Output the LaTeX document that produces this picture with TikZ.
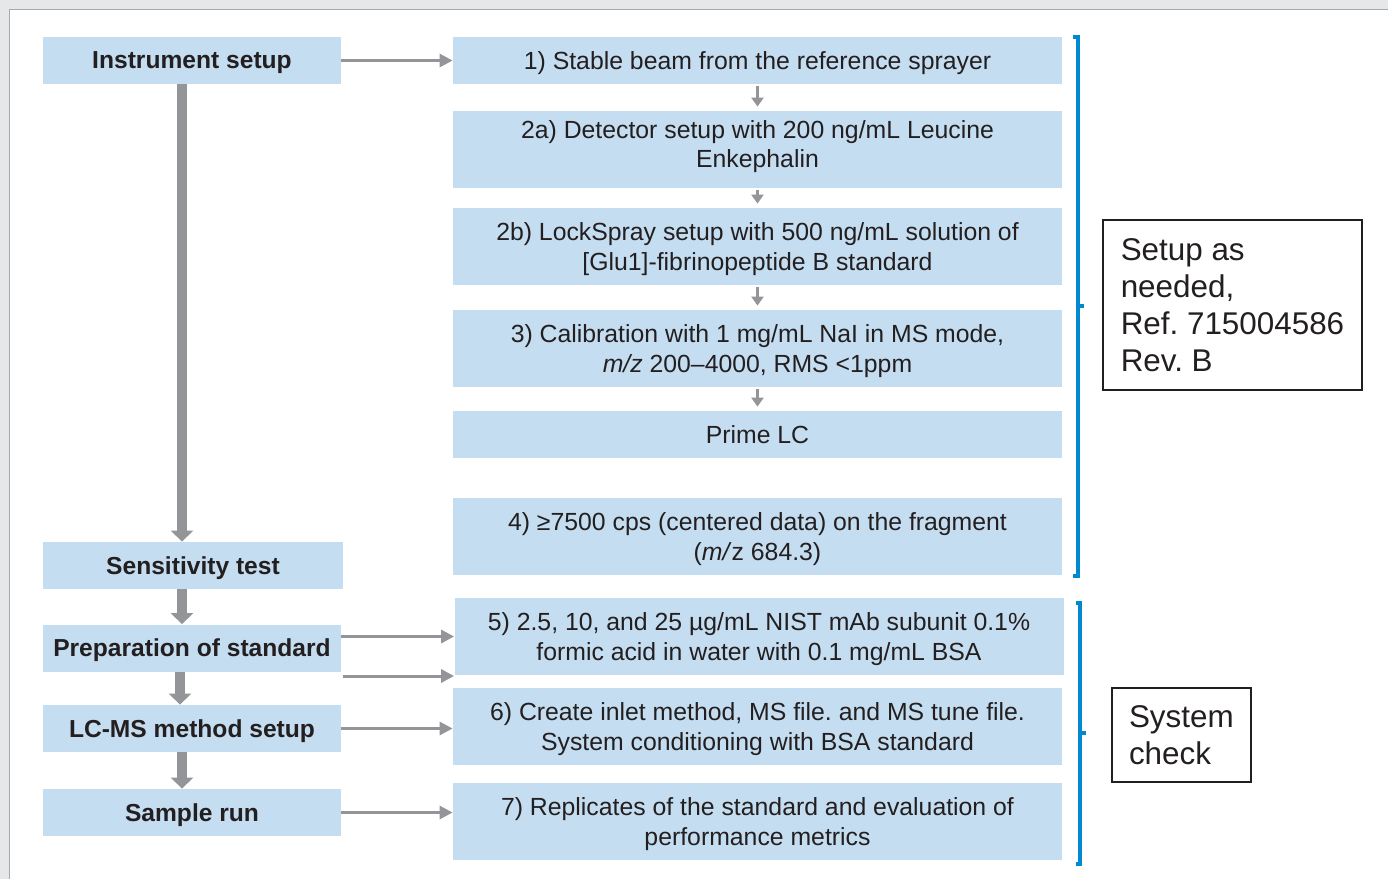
\documentclass[tikz,border=0pt]{standalone}
\usepackage{fontspec}
\setmainfont{Liberation Sans}
\usetikzlibrary{arrows.meta}

\definecolor{boxblue}{HTML}{C5DDF0}
\definecolor{arrowgrey}{HTML}{939598}
\definecolor{bracketblue}{HTML}{0089CF}
\definecolor{inkblack}{HTML}{231F20}
\definecolor{pagegrey}{HTML}{E6E7E8}
\definecolor{rulegrey}{HTML}{A7A9AC}

\begin{document}
\begin{tikzpicture}[x=0.5pt,y=-0.5pt,
	leftbox/.style={fill=boxblue, minimum width=149pt, minimum height=23.5pt, inner sep=0pt, text depth=0pt, text=inkblack, font=\bfseries\fontsize{12.3}{14}\selectfont},
	stepbox/.style={fill=boxblue, minimum width=304.5pt, minimum height=38.5pt, inner sep=0pt, text depth=0pt, align=center, text=inkblack, font=\fontsize{12.4}{14.6}\selectfont},
	notebox/.style={draw=inkblack, line width=1.25pt, inner ysep=0pt, align=left, text=inkblack, font=\fontsize{15.7}{18.6}\selectfont},
	bigarrow/.style={draw=arrowgrey, line width=5pt, -{Triangle[width=11pt,length=5.5pt]}},
	thinarrow/.style={draw=arrowgrey, line width=1.5pt, -{Triangle[width=6.5pt,length=6.5pt]}},
	smallarrow/.style={draw=arrowgrey, line width=1.2pt, -{Triangle[width=6pt,length=4.5pt]}, shorten <=1pt, shorten >=2pt},
	bracketline/.style={draw=bracketblue, line width=2pt}]
				\useasboundingbox (0,0) rectangle (1388,879);
				\fill[pagegrey] (0,0) rectangle (1388,879);
				\fill[white] (10,10) rectangle (1388,879);
				\draw[rulegrey, line width=0.75pt] (9.5,879) -- (9.5,9.5) -- (1388,9.5);
				
				\node[leftbox] (instr) at (192,60.5) {Instrument setup};
				\node[leftbox, minimum width=150pt] (sens) at (193,565.5) {Sensitivity test};
				\node[leftbox] (prep) at (192,648) {Preparation of standard};
				\node[leftbox] (lcms) at (192,728.5) {LC-MS method setup};
				\node[leftbox] (sample) at (192,812.5) {Sample run};
				
				\node[stepbox, minimum height=23.5pt] (s1) at (757.5,60.5) {1) Stable beam from the reference sprayer};
				\node[stepbox, text depth=5.6pt] (s2a) at (757.5,149.5) {2a) Detector setup with 200 ng/mL Leucine\\Enkephalin};
				\node[stepbox] (s2b) at (757.5,246.5) {2b) LockSpray setup with 500 ng/mL solution of\\{[}Glu1{]}-fibrinopeptide B standard};
				\node[stepbox] (s3) at (757.5,348.5) {3) Calibration with 1 mg/mL NaI in MS mode,\\\textit{m/z} 200--4000, RMS <1ppm};
				\node[stepbox, minimum height=23.5pt] (prime) at (757.5,434.5) {Prime LC};
				\node[stepbox] (s4) at (757.5,536.5) {4) ≥7500 cps (centered data) on the fragment\\(\textit{m/}z 684.3)};
				\node[stepbox] (s5) at (759,636.5) {5) 2.5, 10, and 25 µg/mL NIST mAb subunit 0.1\%\\formic acid in water with 0.1 mg/mL BSA};
				\node[stepbox] (s6) at (757.5,726.5) {6) Create inlet method, MS file.\ and MS tune file.\\System conditioning with BSA standard};
				\node[stepbox] (s7) at (757.5,821.5) {7) Replicates of the standard and evaluation of\\performance metrics};
				
				\node[notebox, inner xsep=0pt, minimum width=129.5pt, minimum height=85pt] (setupnote) at (1232.5,305) {Setup as\\needed,\\Ref.\ 715004586\\Rev.\ B};
				\node[notebox, inner xsep=8.5pt, text width=52.5pt, minimum height=47pt] (checknote) at (1181.5,735) {System\\check};
				
				\draw[bigarrow] ([xshift=-5pt]instr.south) -- ([xshift=-5.5pt]sens.north);
				\draw[bigarrow] ([xshift=-5.5pt]sens.south) -- ([xshift=-5pt]prep.north);
				\draw[bigarrow] ([xshift=-6pt]prep.south) -- ([xshift=-6pt]lcms.north);
				\draw[bigarrow] ([xshift=-5pt]lcms.south) -- ([xshift=-5pt]sample.north);
				
				\draw[thinarrow] (instr.east) -- (s1.west);
				\draw[thinarrow] (prep.east |- s5.west) -- (s5.west);
				\coordinate (prepout) at (343,676);
				\draw[thinarrow] (prepout) -- (prepout -| s5.west);
				\draw[thinarrow] (lcms.east) -- (lcms.east -| s6.west);
				\draw[thinarrow] (sample.east) -- (sample.east -| s7.west);
				
				\draw[smallarrow] (s1.south) -- (s2a.north);
				\draw[smallarrow] (s2a.south) -- (s2b.north);
				\draw[smallarrow] (s2b.south) -- (s3.north);
				\draw[smallarrow] (s3.south) -- (prime.north);
				
				\draw[bracketline] (1073,37) -- (1078,37) -- (1078,576) -- (1073,576);
				\draw[bracketline] (1078,306) -- (1084,306);
				\draw[bracketline] (1076,603) -- (1080,603) -- (1080,864) -- (1076,864);
				\draw[bracketline] (1080,733) -- (1086,733);
			\end{tikzpicture}
\end{document}
